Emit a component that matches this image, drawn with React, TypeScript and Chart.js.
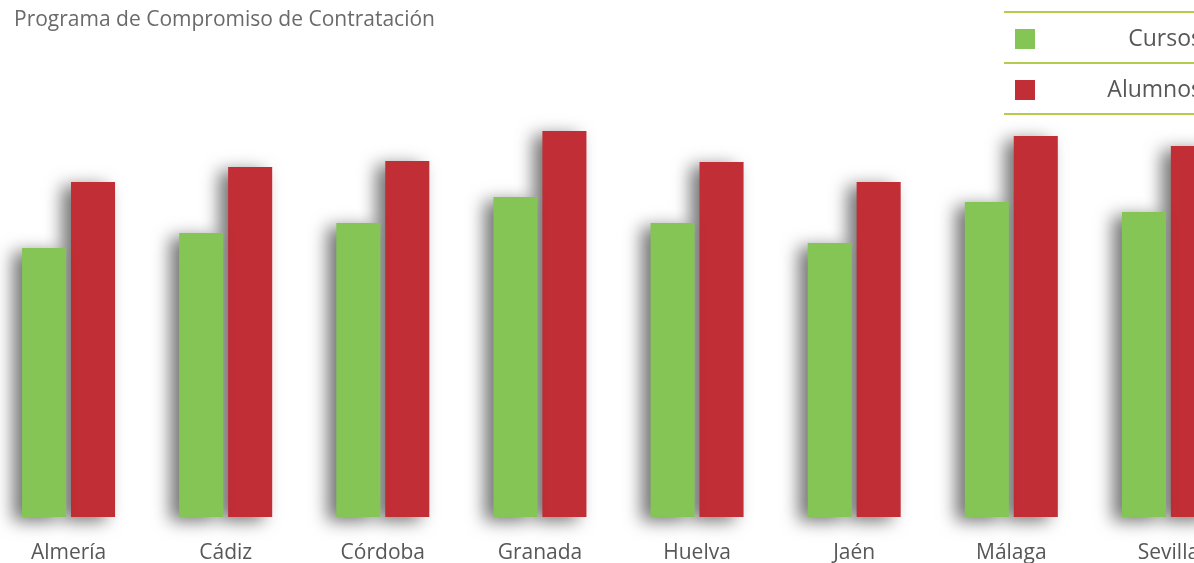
import React, { useEffect, useRef } from "react";
import { Chart, registerables } from "chart.js";

Chart.register(...registerables);

const categories = ["Almería", "Cádiz", "Córdoba", "Granada", "Huelva", "Jaén", "Málaga", "Sevilla"];
const cursos = [269, 284, 294, 320, 294, 274, 315, 305];
const alumnos = [335, 350, 356, 386, 355, 335, 381, 371];
const seriesNames = ["Cursos", "Alumnos"];
const seriesColors = ["#84c556", "#c12e36"];

const FONT = "'Open Sans', 'Noto Sans', sans-serif";

const shadowPlugin = {
  id: "barShadow",
  beforeDatasetDraw(chart: any) {
    const ctx = chart.ctx;
    ctx.save();
    ctx.shadowColor = "rgba(0,0,0,0.55)";
    ctx.shadowBlur = 17;
    ctx.shadowOffsetX = -9;
    ctx.shadowOffsetY = 4;
  },
  afterDatasetDraw(chart: any) {
    chart.ctx.restore();
  },
};

export default function App() {
  const ref = useRef<HTMLCanvasElement | null>(null);

  useEffect(() => {
    if (!ref.current) return;
    const chart = new Chart(ref.current, {
      type: "bar",
      data: {
        labels: categories,
        datasets: [
          {
            label: seriesNames[0],
            data: cursos,
            backgroundColor: seriesColors[0],
            borderWidth: 0,
            clip: false,
            categoryPercentage: 0.623,
            barPercentage: 0.9,
          },
          {
            label: seriesNames[1],
            data: alumnos,
            backgroundColor: seriesColors[1],
            borderWidth: 0,
            clip: false,
            categoryPercentage: 0.623,
            barPercentage: 0.9,
          },
        ],
      },
      options: {
        animation: false,
        responsive: false,
        maintainAspectRatio: false,
        layout: { padding: { top: 117, left: 0, right: 0, bottom: 0 } },
        plugins: {
          legend: { display: false },
          title: { display: false },
          tooltip: { enabled: false },
        },
        scales: {
          x: {
            grid: { display: false, drawTicks: false },
            border: { display: false },
            afterFit(scale: any) {
              scale.height = 46;
            },
            ticks: {
              padding: 23,
              color: "#575757",
              maxRotation: 0,
              autoSkip: false,
              font: { family: FONT, size: 21 },
            },
          },
          y: {
            display: false,
            min: 0,
            max: 400,
          },
        },
      },
      plugins: [shadowPlugin],
    });
    return () => chart.destroy();
  }, []);

  const lineColor = "#b3cb4e";
  return (
    <div style={{ position: "fixed", left: 0, top: 0, width: "100vw", height: "100vh", overflow: "hidden", background: "#fff" }}>
      <div style={{ position: "absolute", left: -10, top: 0, width: 1257, height: 563 }}>
        <canvas ref={ref} width={1257} height={563} style={{ width: 1257, height: 563, display: "block" }} />
      </div>
      <div
        style={{
          position: "absolute",
          left: 14,
          top: 4,
          fontFamily: FONT,
          fontSize: 21,
          color: "#6a6a6a",
          whiteSpace: "nowrap",
        }}
      >
        Programa de Compromiso de Contratación
      </div>
      <div style={{ position: "absolute", left: 1004, top: 11, width: 198, fontFamily: FONT }}>
        <div style={{ height: 2, background: lineColor }} />
        {seriesNames.map((name, i) => (
          <div key={name}>
            <div style={{ position: "relative", height: 49 }}>
              <div
                style={{
                  position: "absolute",
                  left: 11,
                  top: 16,
                  width: 20,
                  height: 20,
                  background: seriesColors[i],
                }}
              />
              <div
                style={{
                  position: "absolute",
                  right: 0,
                  top: 8,
                  fontSize: 23,
                  lineHeight: "32px",
                  color: "#575757",
                  whiteSpace: "nowrap",
                }}
              >
                {name}
              </div>
            </div>
            <div style={{ height: 2, background: lineColor }} />
          </div>
        ))}
      </div>
    </div>
  );
}
